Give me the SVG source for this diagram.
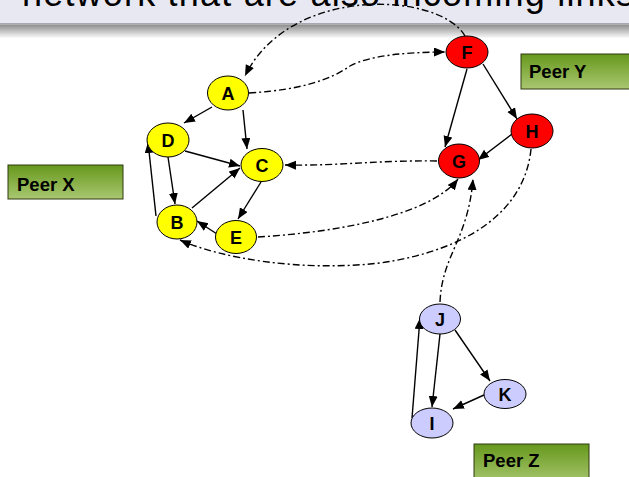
<svg xmlns="http://www.w3.org/2000/svg" width="629" height="477" viewBox="0 0 629 477">
<defs>
<linearGradient id="shadow" x1="0" y1="0" x2="0" y2="1">
<stop offset="0" stop-color="#8c8c8c"/>
<stop offset="1" stop-color="#ffffff"/>
</linearGradient>
<linearGradient id="peer" x1="0" y1="0" x2="0" y2="1">
<stop offset="0" stop-color="#66981c"/>
<stop offset="1" stop-color="#a9c771"/>
</linearGradient>
<marker id="ah" markerUnits="userSpaceOnUse" markerWidth="12" markerHeight="10" refX="11" refY="4.5" orient="auto">
<path d="M0,0 L11,4.5 L0,9 z" fill="#000"/>
</marker>
</defs>
<style>
.n ellipse{stroke:#000;stroke-width:1}
.y ellipse{fill:#ffff00}
.r ellipse{fill:#ff0000}
.p ellipse{fill:#ccccff}
.n text{font-family:"Liberation Sans",Arial,sans-serif;font-weight:bold;font-size:18px;text-anchor:middle;fill:#000}
.s{fill:none;stroke:#000;stroke-width:1.4;marker-end:url(#ah)}
.d{fill:none;stroke:#000;stroke-width:1.4;stroke-dasharray:7,3,2,3;marker-end:url(#ah)}
.peer rect{fill:url(#peer);stroke:#2e3a10;stroke-width:1}
.peer text{font-family:"Liberation Sans",Arial,sans-serif;font-weight:bold;font-size:18.5px;fill:#000}
</style>
<rect width="629" height="477" fill="#fff"/>
<g id="banner">
<rect x="0" y="0" width="629" height="23" fill="#e8e8f2"/>
<rect x="0" y="23" width="629" height="1.5" fill="#a8a8b0"/>
<rect x="0" y="24.5" width="629" height="14" fill="url(#shadow)"/>
<text x="22" y="6" font-family="Liberation Sans, Arial, sans-serif" font-size="36" textLength="612" fill="#000">network that are also incoming links</text>
</g>
<g id="peerX" class="peer"><rect x="8" y="165" width="115" height="34"/><text x="17" y="191">Peer X</text></g>
<g id="peerY" class="peer"><rect x="521" y="54" width="115" height="35"/><text x="529" y="78">Peer Y</text></g>
<g id="peerZ" class="peer"><rect x="474" y="444" width="115" height="40"/><text x="483" y="467">Peer Z</text></g>
<g id="connectors">
<path class="s" d="M212,107 L184,123"/>
<path class="s" d="M243,110 L247,149"/>
<path class="s" d="M185,151 L240,166"/>
<path class="s" d="M168,157 L175,204"/>
<path class="s" d="M156,216 L148,142"/>
<path class="s" d="M192,208 L240,168"/>
<path class="s" d="M261,182 L238,219"/>
<path class="s" d="M217,234 L197,221"/>
<path class="s" d="M467,69 L445,147"/>
<path class="s" d="M483,64 L517,119"/>
<path class="s" d="M512,134 L478,160"/>
<path class="s" d="M440,334 L432,407"/>
<path class="s" d="M455,330 L490,381"/>
<path class="s" d="M484,395 L453,409"/>
<path class="s" d="M412,418 L420,318"/>
<path class="d" d="M249,93 C300,90 330,80 350,66 C370,55 410,52 445,52"/>
<path class="d" d="M465,36 C440,-8 290,-16 245,76"/>
<path class="d" d="M437,161 C380,160 340,166 285,165"/>
<path class="d" d="M258,237 C340,232 430,215 458,179"/>
<path class="d" d="M531,149 C525,210 470,250 380,263 C300,272 220,258 180,240"/>
<path class="d" d="M440,302 C442,255 468,240 473,179"/>
</g>
<g id="A" class="n y"><ellipse cx="228" cy="93" rx="20.5" ry="17"/><text x="228" y="99.5">A</text></g>
<g id="D" class="n y"><ellipse cx="168" cy="140" rx="21" ry="17"/><text x="168" y="146.5">D</text></g>
<g id="C" class="n y"><ellipse cx="262" cy="165" rx="21" ry="16.5"/><text x="262" y="171.5">C</text></g>
<g id="B" class="n y"><ellipse cx="177" cy="222" rx="20" ry="17"/><text x="177" y="228.5">B</text></g>
<g id="E" class="n y"><ellipse cx="236" cy="237" rx="20.5" ry="16.5"/><text x="236" y="243.5">E</text></g>
<g id="F" class="n r"><ellipse cx="467" cy="52" rx="21" ry="16"/><text x="467" y="58.5">F</text></g>
<g id="G" class="n r"><ellipse cx="459" cy="161" rx="20.5" ry="17"/><text x="459" y="167.5">G</text></g>
<g id="H" class="n r"><ellipse cx="532" cy="131" rx="21" ry="17"/><text x="532" y="137.5">H</text></g>
<g id="J" class="n p"><ellipse cx="440" cy="319" rx="20.5" ry="15"/><text x="440" y="325.5">J</text></g>
<g id="K" class="n p"><ellipse cx="505" cy="394" rx="21" ry="14.5"/><text x="505" y="400.5">K</text></g>
<g id="I" class="n p"><ellipse cx="432" cy="423" rx="21" ry="15"/><text x="432" y="429.5">I</text></g>
</svg>
